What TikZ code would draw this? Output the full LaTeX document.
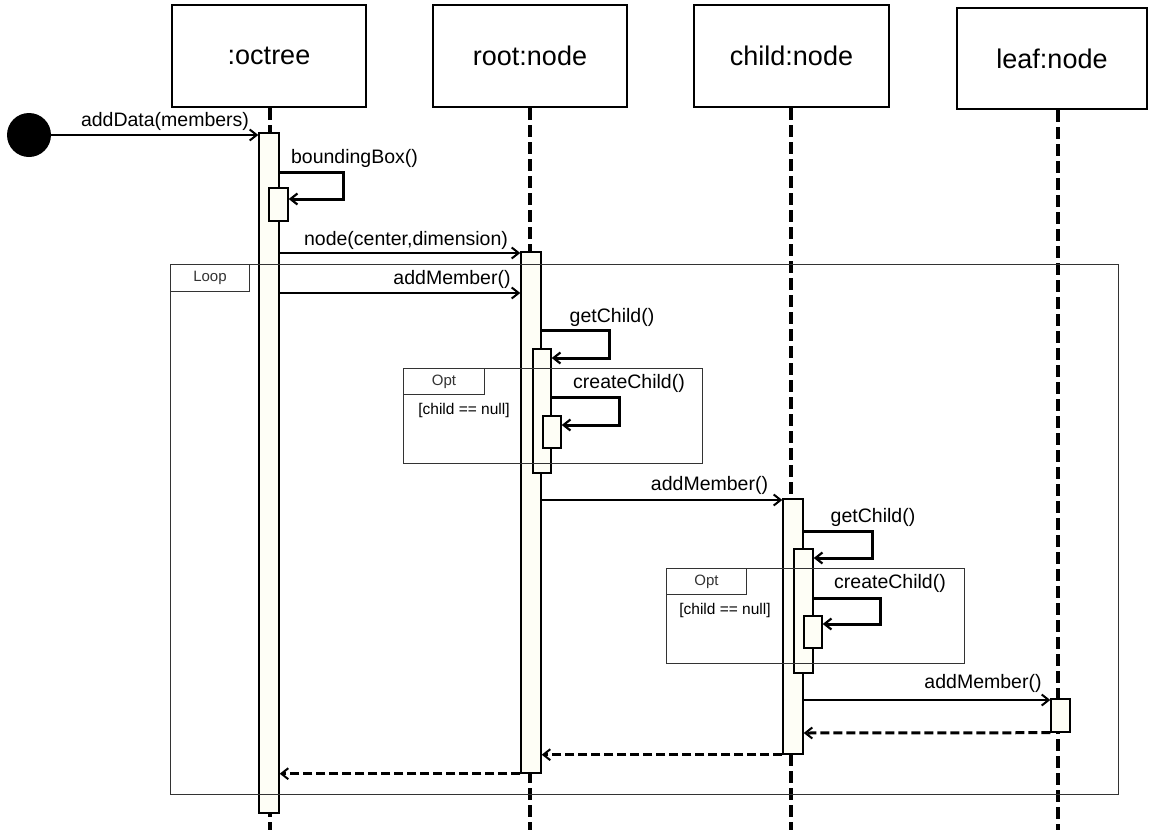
\documentclass[tikz,border=0pt]{standalone}
\usepackage{fontspec}
\setmainfont{Liberation Sans}
\usetikzlibrary{arrows.meta,calc}
\definecolor{barfill}{RGB}{254,254,246}
\tikzset{
  header/.style={draw, line width=2pt, minimum width=194pt, minimum height=102pt, inner sep=0pt, font=\fontsize{27}{30}\selectfont},
  bar/.style={draw, line width=1.4pt, fill=barfill, inner sep=0pt},
  lifeline/.style={line width=3.5pt, dash pattern=on 12pt off 5pt},
  msg/.style={line width=2pt, -{Straight Barb[length=7pt,width=11pt,line width=2pt]}},
  selfmsg/.style={line width=3pt, -{Straight Barb[length=7pt,width=11pt,line width=2.2pt]}},
  retmsg/.style={line width=3pt, dash pattern=on 9pt off 4pt, -{Straight Barb[length=7pt,width=11pt,line width=2pt]}},
  lbl/.style={inner sep=0pt, font=\fontsize{19.5}{22}\selectfont},
  frame/.style={draw, line width=1pt, black!80},
  tab/.style={draw, line width=1pt, black!80, inner sep=0pt, font=\fontsize{15}{17}\selectfont},
  guard/.style={inner sep=0pt, font=\fontsize{15.5}{18}\selectfont}
}
\begin{document}
\begin{tikzpicture}[x=1pt,y=-1pt]
\useasboundingbox (0,0) rectangle (1152,830);
% headers
\node[header] (hO) at (269,56) {\raisebox{-3pt}{:octree}};
\node[header] (hR) at (530,56) {\raisebox{-3pt}{root:node}};
\node[header, minimum width=195pt] (hC) at (791.5,56) {\raisebox{-3pt}{child:node}};
\node[header, minimum width=190pt, minimum height=101pt] (hL) at (1052,58.5) {\raisebox{-3pt}{leaf:node}};
% lifeline ends
\coordinate (eO) at (270,830);
\coordinate (eR) at (530,830);
\coordinate (eC) at (791,830);
\coordinate (eL) at (1058,830);
\draw[lifeline] (hO.south -| eO) -- (eO);
\draw[lifeline] (hR.south -| eR) -- (eR);
\draw[lifeline] (hC.south -| eC) -- (eC);
\draw[lifeline] (hL.south -| eL) -- (eL);
% activation bars
\node[bar, minimum width=20pt, minimum height=680pt] (bO) at (269,473) {};
\node[bar, minimum width=19pt, minimum height=33pt] (bO2) at (278.5,204.5) {};
\node[bar, minimum width=20pt, minimum height=521pt] (bR) at (531,512.5) {};
\node[bar, minimum width=18pt, minimum height=124pt] (bR2) at (542,411) {};
\node[bar, minimum width=18pt, minimum height=32pt] (bR3) at (552,432) {};
\node[bar, minimum width=20pt, minimum height=255pt] (bC) at (793,626.5) {};
\node[bar, minimum width=19pt, minimum height=124pt] (bC2) at (803.5,611) {};
\node[bar, minimum width=18pt, minimum height=32pt] (bC3) at (813,632) {};
\node[bar, minimum width=19pt, minimum height=33pt] (bL) at (1060.5,715.5) {};
% frames
\draw[frame] (170,264) rectangle (1118,794);
\node[tab, minimum width=79pt, minimum height=27pt, anchor=north west] (tLoop) at (170,264) {Loop};
\draw[frame] (403,368) rectangle (702,463);
\node[tab, minimum width=81pt, minimum height=26pt, anchor=north west] (tOpt1) at (403,368) {Opt};
\node[guard] (g1) at (464,410) {[child == null]};
\draw[frame] (666,568) rectangle (964,663);
\node[tab, minimum width=80pt, minimum height=26pt, anchor=north west] (tOpt2) at (666,568) {Opt};
\node[guard] (g2) at (725,610) {[child == null]};
% start
\node[circle, fill=black, minimum size=44pt, inner sep=0pt] (start) at (29,135) {};
\draw[msg] (start.east) -- (start.east -| bO.west);
\node[lbl] (l1) at (165,121) {addData(members)};
% boundingBox
\draw[selfmsg] (bO.east |- 0,172) -| (343,199) -- (bO2.east |- 0,199);
\node[lbl] (l2) at (354.5,158) {boundingBox()};
% node(center,dimension)
\draw[msg] (bO.east |- 0,253) -- (bR.west |- 0,253);
\node[lbl] (l3) at (406,240) {node(center,dimension)};
% addMember
\draw[msg] (bO.east |- 0,293) -- (bR.west |- 0,293);
\node[lbl] (l4) at (452,279) {addMember()};
% getChild root
\draw[selfmsg] (bR.east |- 0,330) -| (609,358) -- (bR2.east |- 0,358);
\node[lbl] (l5) at (612,317) {getChild()};
% createChild root
\draw[selfmsg] (bR2.east |- 0,397) -| (619,425) -- (bR3.east |- 0,425);
\node[lbl] (l6) at (629,383) {createChild()};
% addMember root->child
\draw[msg] (bR.east |- 0,500) -- (bC.west |- 0,500);
\node[lbl] (l7) at (709.5,485) {addMember()};
% getChild child
\draw[selfmsg] (bC.east |- 0,531) -| (872,558) -- (bC2.east |- 0,558);
\node[lbl] (l8) at (873,517) {getChild()};
% createChild child
\draw[selfmsg] (bC2.east |- 0,598) -| (880,624) -- (bC3.east |- 0,624);
\node[lbl] (l9) at (890,583) {createChild()};
% addMember child->leaf
\draw[msg] (bC.east |- 0,700) -- (bL.west |- 0,700);
\node[lbl] (l10) at (983,683) {addMember()};
% returns
\draw[retmsg] (bL.south west) -- (bC.east |- 0,733);
\draw[retmsg] (bC.south west) -- (bR.east |- bC.south);
\draw[retmsg] (bR.south west) -- (bO.east |- bR.south);
\end{tikzpicture}
\end{document}
